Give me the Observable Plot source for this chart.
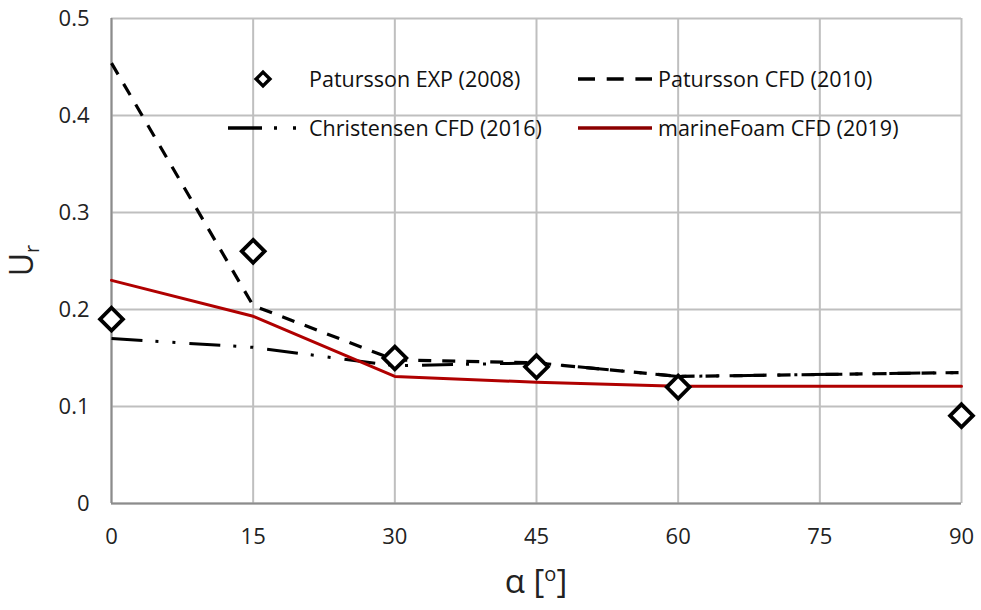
<!DOCTYPE html>
<html>
<head>
<meta charset="utf-8">
<script src="https://cdn.jsdelivr.net/npm/d3@7"></script>
<script src="https://cdn.jsdelivr.net/npm/@observablehq/plot@0.6"></script>
<style>
  html, body { margin: 0; padding: 0; background: #fff; }
  #chart { position: relative; width: 981px; height: 610px; }
</style>
</head>
<body>
<div id="chart"></div>
<script>
// ---- data ----
const xTicks = [0, 15, 30, 45, 60, 75, 90];
const yTicks = [0, 0.1, 0.2, 0.3, 0.4, 0.5];
const yTickLabels = ["0", "0.1", "0.2", "0.3", "0.4", "0.5"];

const paturssonExpAngles = [0, 15, 30, 45, 60, 90];
const paturssonExp = [0.19, 0.26, 0.15, 0.141, 0.12, 0.0905];

const paturssonCfdAngles = [0, 15, 30, 45, 60, 90];
const paturssonCfd = [0.454, 0.204, 0.148, 0.145, 0.131, 0.135];

const christensenAngles = [0, 15, 30, 45, 60, 90];
const christensen = [0.17, 0.161, 0.142, 0.145, 0.131, 0.135];

const marineFoamAngles = [0, 15, 30, 45, 60, 90];
const marineFoam = [0.23, 0.193, 0.131, 0.125, 0.121, 0.121];

const seriesNames = ["Patursson EXP (2008)", "Patursson CFD (2010)", "Christensen CFD (2016)", "marineFoam CFD (2019)"];

const toRows = (xs, ys) => xs.map((x, i) => ({x, y: ys[i]}));
const expRows = toRows(paturssonExpAngles, paturssonExp);
const pcfdRows = toRows(paturssonCfdAngles, paturssonCfd);
const chrRows = toRows(christensenAngles, christensen);
const mfRows = toRows(marineFoamAngles, marineFoam);
const yTickRows = yTicks.map((v, i) => ({v, label: yTickLabels[i]}));

const RED = "#b00000";
const DASH = "13,11";
const DASHDOTDOT = "31,13,3,14,3,14";
const FONT = "Open Sans, sans-serif";

const plot = Plot.plot({
  width: 981,
  height: 610,
  marginLeft: 111,
  marginRight: 20,
  marginTop: 18,
  marginBottom: 107,
  style: {fontFamily: FONT, background: "#fff"},
  x: {domain: [0, 90], axis: null},
  y: {domain: [0, 0.5], axis: null},
  marks: [
    Plot.gridX(xTicks, {stroke: "#bfbfbf", strokeOpacity: 1, strokeWidth: 2}),
    Plot.gridY(yTicks, {stroke: "#bfbfbf", strokeOpacity: 1, strokeWidth: 2}),
    Plot.ruleX([0], {stroke: "#8c8c8c", strokeWidth: 2}),
    Plot.ruleY([0], {stroke: "#8c8c8c", strokeWidth: 2}),
    // tick labels
    Plot.text(xTicks, {x: d => d, y: 0, dy: 33, text: d => String(d), fontSize: 22, fill: "#222", clip: false}),
    Plot.text(yTickRows, {x: 0, y: "v", dx: -22, text: "label", textAnchor: "end", fontSize: 22, fill: "#222", clip: false}),
    Plot.line(chrRows, {x: "x", y: "y", stroke: "#000", strokeWidth: 3, strokeDasharray: DASHDOTDOT, strokeLinecap: "butt"}),
    Plot.line(pcfdRows, {x: "x", y: "y", stroke: "#000", strokeWidth: 3.2, strokeDasharray: DASH, strokeLinecap: "butt"}),
    Plot.line(mfRows, {x: "x", y: "y", stroke: RED, strokeWidth: 3}),
    Plot.dot(expRows, {x: "x", y: "y", symbol: "diamond2", r: 10.3, stroke: "#000", strokeWidth: 3.8, fill: "#fff"})
  ]
});

document.getElementById("chart").appendChild(plot);

const svg = d3.select(plot);
const sx = plot.scale("x"), sy = plot.scale("y");

// axis titles
const xt = svg.append("text")
  .attr("x", sx.apply(45))
  .attr("y", 593)
  .attr("text-anchor", "middle")
  .attr("font-size", 33)
  .attr("fill", "#222")
  .attr("font-family", FONT);
xt.append("tspan").text("α [");
xt.append("tspan").attr("font-size", 20).attr("dy", -12).text("o");
xt.append("tspan").attr("dy", 12).text("]");

const yt = svg.append("text")
  .attr("transform", `translate(33, ${sy.apply(0.25)}) rotate(-90)`)
  .attr("text-anchor", "middle")
  .attr("font-size", 32)
  .attr("fill", "#222")
  .attr("font-family", FONT);
yt.append("tspan").text("U");
yt.append("tspan").attr("font-size", 20).attr("dy", 6).text("r");

// legend
const lg = svg.append("g")
  .attr("font-size", 21.5)
  .attr("fill", "#111")
  .attr("font-family", FONT)
  .attr("text-anchor", "start");
const row1 = 79, row2 = 128;
lg.append("path")
  .attr("d", d3.symbol(d3.symbolDiamond2, Math.PI * 6.2 * 6.2)())
  .attr("transform", `translate(263, ${row1})`)
  .attr("fill", "#fff").attr("stroke", "#000").attr("stroke-width", 3.5);
lg.append("text").attr("x", 309).attr("y", row1).attr("dy", "0.35em").text(seriesNames[0]);
lg.append("line").attr("x1", 578).attr("x2", 652).attr("y1", row1).attr("y2", row1)
  .attr("stroke", "#000").attr("stroke-width", 3.5).attr("stroke-dasharray", "17,11.7");
lg.append("text").attr("x", 658).attr("y", row1).attr("dy", "0.35em").text(seriesNames[1]);
lg.append("line").attr("x1", 228).attr("x2", 300).attr("y1", row2).attr("y2", row2)
  .attr("stroke", "#000").attr("stroke-width", 3.5).attr("stroke-dasharray", "34,12,3,16,3,30");
lg.append("text").attr("x", 309).attr("y", row2).attr("dy", "0.35em").text(seriesNames[2]);
lg.append("line").attr("x1", 578).attr("x2", 652).attr("y1", row2).attr("y2", row2)
  .attr("stroke", "#8b0000").attr("stroke-width", 3.5);
lg.append("text").attr("x", 658).attr("y", row2).attr("dy", "0.35em").text(seriesNames[3]);
</script>
</body>
</html>
